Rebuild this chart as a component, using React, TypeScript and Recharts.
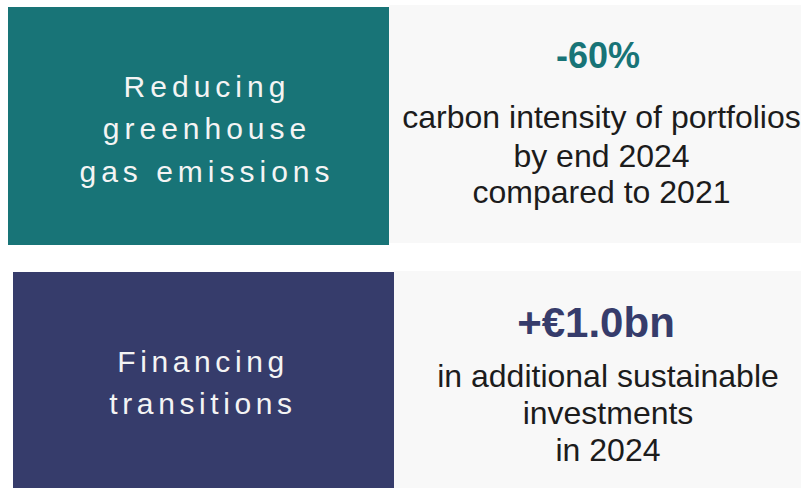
import { BarChart, Bar, XAxis, YAxis } from 'recharts'

const themeLines = [
  ['Reducing', 'greenhouse', 'gas emissions'],
  ['Financing', 'transitions'],
]
const headlines = ['-60%', '+€1.0bn']
const detailLines = [
  ['carbon intensity of portfolios', 'by end 2024', 'compared to 2021'],
  ['in additional sustainable', 'investments', 'in 2024'],
]

const rows = themeLines.map((lines, i) => ({
  theme: lines.join(' '),
  span: 1,
  lines,
  headline: headlines[i],
  detail: detailLines[i],
}))

const FONT = '"Liberation Sans", Arial, Helvetica, sans-serif'
const ACCENTS = ['#187477', '#363c6b']
const PANEL_BG = '#f8f8f8'

// per-row tweaks, offsets are relative to the bar's top edge
const LAYOUT = [
  {
    left: 8, split: 389, colorDy: 1.5, grayDy: -0.5, panelH: 238,
    titleX: 207, titleY: [91.5, 133.5, 176.5], titleLs: 5,
    headX: 598, headY: 62.5, headSize: 36,
    bodyX: 601.5, bodyY: [122.5, 161.5, 197.5],
  },
  {
    left: 13, split: 394, colorDy: 1.5, grayDy: 0.5, panelH: 238,
    titleX: 203, titleY: [101, 143.5], titleLs: 4.6,
    headX: 596, headY: 66.5, headSize: 42,
    bodyX: 608, bodyY: [116, 153.5, 190],
  },
]

function Panel(props: any) {
  const { x, y, width, index, payload } = props
  const l = LAYOUT[index]
  const right = x + width
  return (
    <g>
      <rect x={l.split} y={y + l.grayDy} width={right - l.split} height={l.panelH} fill={PANEL_BG} />
      <rect x={l.left} y={y + l.colorDy} width={l.split - l.left} height={l.panelH} fill={ACCENTS[index]} />
      {payload.lines.map((t: string, k: number) => (
        <text key={t} x={l.titleX} y={y + l.titleY[k]} textAnchor="middle" fill="#f4f4f4"
          fontFamily={FONT} fontSize={30} letterSpacing={l.titleLs}>
          {t}
        </text>
      ))}
      <text x={l.headX} y={y + l.headY} textAnchor="middle" fill={ACCENTS[index]}
        fontFamily={FONT} fontSize={l.headSize} fontWeight="bold">
        {payload.headline}
      </text>
      {payload.detail.map((t: string, k: number) => (
        <text key={t} x={l.bodyX} y={y + l.bodyY[k]} textAnchor="middle" fill="#1c1c1c"
          fontFamily={FONT} fontSize={32}>
          {t}
        </text>
      ))}
    </g>
  )
}

export default function App() {
  return (
    <div style={{ position: 'fixed', left: 0, top: -8, background: '#fff' }}>
      <BarChart width={801} height={530} data={rows} layout="vertical"
        margin={{ top: 0, right: 0, bottom: 0, left: 0 }} barCategoryGap={13.5}>
        <XAxis type="number" domain={[0, 1]} hide />
        <YAxis type="category" dataKey="theme" hide />
        <Bar dataKey="span" shape={<Panel />} isAnimationActive={false} />
      </BarChart>
    </div>
  )
}
